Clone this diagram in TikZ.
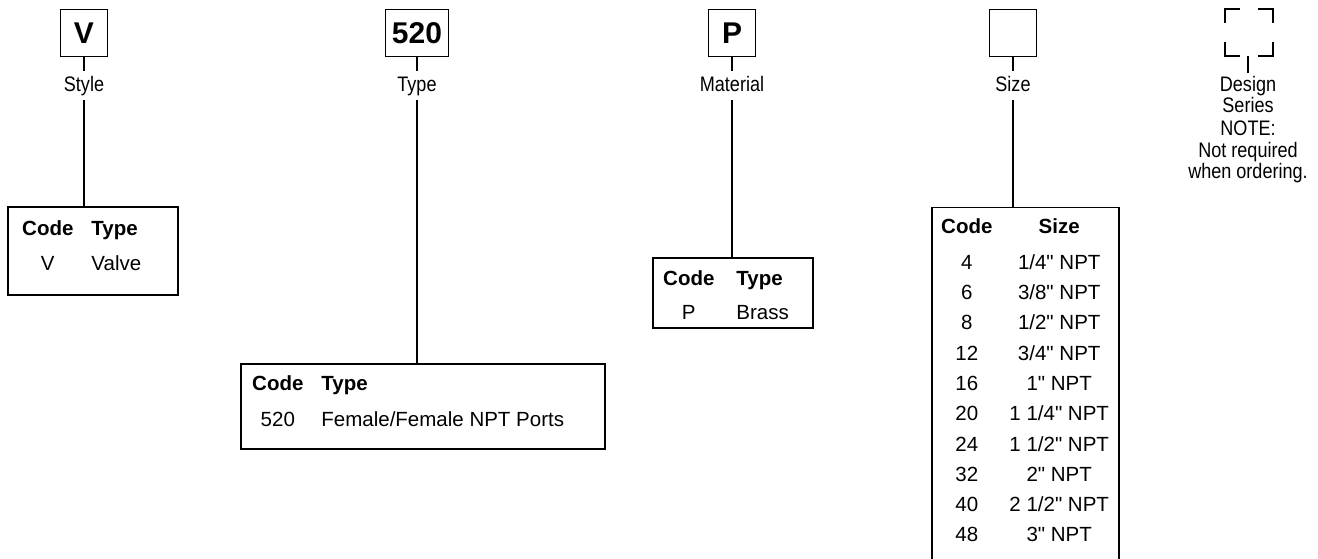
\documentclass[tikz,border=0pt]{standalone}
\usepackage{fontspec}
\setmainfont{Liberation Sans}
\newfontfamily\condfont[FakeStretch=0.86]{Liberation Sans}
\newcommand{\inch}{\textquotedbl}

\begin{document}
\begin{tikzpicture}[x=1pt,y=-1pt,
    keybox/.style={draw,line width=1.6pt,minimum size=47pt,inner sep=6.5pt,font=\fontsize{30}{36}\selectfont\bfseries},
    keylabel/.style={font=\fontsize{21}{21.5}\selectfont\condfont,text height=18pt,text depth=5pt,inner sep=3pt,anchor=base},
    tablebox/.style={draw,line width=1.4pt,inner sep=0pt},
    tabletext/.style={inner sep=0pt,anchor=base west},
    link/.style={line width=1.5pt},
    corner/.style={line width=2.2pt}]
            \useasboundingbox (0,0) rectangle (1318,559);
            \clip (0,0) rectangle (1318,559);

            % code boxes
            \node[keybox] (vkey) at (84,33) {V};
            \node[keybox] (typekey) at (417,33) {520};
            \node[keybox] (matkey) at (732,33) {P};
            \node[keybox] (sizekey) at (1013,33) {};
            \node[minimum size=47pt,inner sep=0pt] (dskey) at (1249,32.5) {};

            \node[keylabel] (stylelab) at (84,92) {Style};
            \node[keylabel] (typelab) at (417,92) {Type};
            \node[keylabel] (matlab) at (732,92) {Material};
            \node[keylabel] (sizelab) at (1013,92) {Size};
            \node[font=\fontsize{21}{21.5}\selectfont\condfont,align=center,inner sep=3pt,anchor=north] (dsnote) at (1248,73)
                {Design\\Series\\[1.5pt]NOTE:\\Not required\\when ordering.};

            % tables
            \node[tablebox,minimum width=170pt,minimum height=88pt] (styletab) at (93,251) {};
            \node[tabletext,font=\fontsize{20.5}{35}\selectfont] (styletxt) at (22,235.3)
                {\begin{tabular}[t]{@{}c@{\hspace{18pt}}l@{}}\textbf{Code} & \textbf{Type}\\ V & Valve\end{tabular}};

            \node[tablebox,minimum width=364pt,minimum height=85pt] (typetab) at (423,406.5) {};
            \node[tabletext,font=\fontsize{20.5}{36}\selectfont] (typetxt) at (252,390.3)
                {\begin{tabular}[t]{@{}c@{\hspace{18pt}}l@{}}\textbf{Code} & \textbf{Type}\\ 520 & Female/Female NPT Ports\end{tabular}};

            \node[tablebox,minimum width=160pt,minimum height=70pt] (mattab) at (733,293) {};
            \node[tabletext,font=\fontsize{20.5}{34}\selectfont] (mattxt) at (663,285.3)
                {\begin{tabular}[t]{@{}c@{\hspace{22pt}}l@{}}\textbf{Code} & \textbf{Type}\\ P & Brass\end{tabular}};

            \node[tablebox,minimum width=187pt,minimum height=365pt,anchor=north] (sizetab) at (1025.5,207) {};
            \node[tabletext,font=\fontsize{20.5}{30.3}\selectfont] (sizetxt) at (941,233.5)
                {\begin{tabular}[t]{@{}c@{\hspace{17pt}}c@{}}\textbf{Code} & \textbf{Size}\\[5.5pt]
                4 & 1/4\inch{} NPT\\ 6 & 3/8\inch{} NPT\\ 8 & 1/2\inch{} NPT\\ 12 & 3/4\inch{} NPT\\ 16 & 1\inch{} NPT\\
                20 & 1 1/4\inch{} NPT\\ 24 & 1 1/2\inch{} NPT\\ 32 & 2\inch{} NPT\\ 40 & 2 1/2\inch{} NPT\\ 48 & 3\inch{} NPT\end{tabular}};

            % connectors
            \draw[link] (vkey) -- (stylelab);
            \draw[link] (stylelab) -- (stylelab |- styletab.north);
            \draw[link] (typekey) -- (typelab);
            \draw[link] (typelab) -- (typelab |- typetab.north);
            \draw[link] (matkey) -- (matlab);
            \draw[link] (matlab) -- (matlab |- mattab.north);
            \draw[link] (sizekey) -- (sizelab);
            \draw[link] (sizelab) -- (sizelab |- sizetab.north);
            \draw[link] (dskey.south -| dsnote.north) -- (dsnote.north);

            % design series corners
            \draw[corner] ([xshift=15pt]dskey.north west) -- (dskey.north west) -- ([yshift=-14pt]dskey.north west);
            \draw[corner] ([xshift=-15pt]dskey.north east) -- (dskey.north east) -- ([yshift=-14pt]dskey.north east);
            \draw[corner] ([xshift=15pt]dskey.south west) -- (dskey.south west) -- ([yshift=14pt]dskey.south west);
            \draw[corner] ([xshift=-15pt]dskey.south east) -- (dskey.south east) -- ([yshift=14pt]dskey.south east);
        \end{tikzpicture}
\end{document}
